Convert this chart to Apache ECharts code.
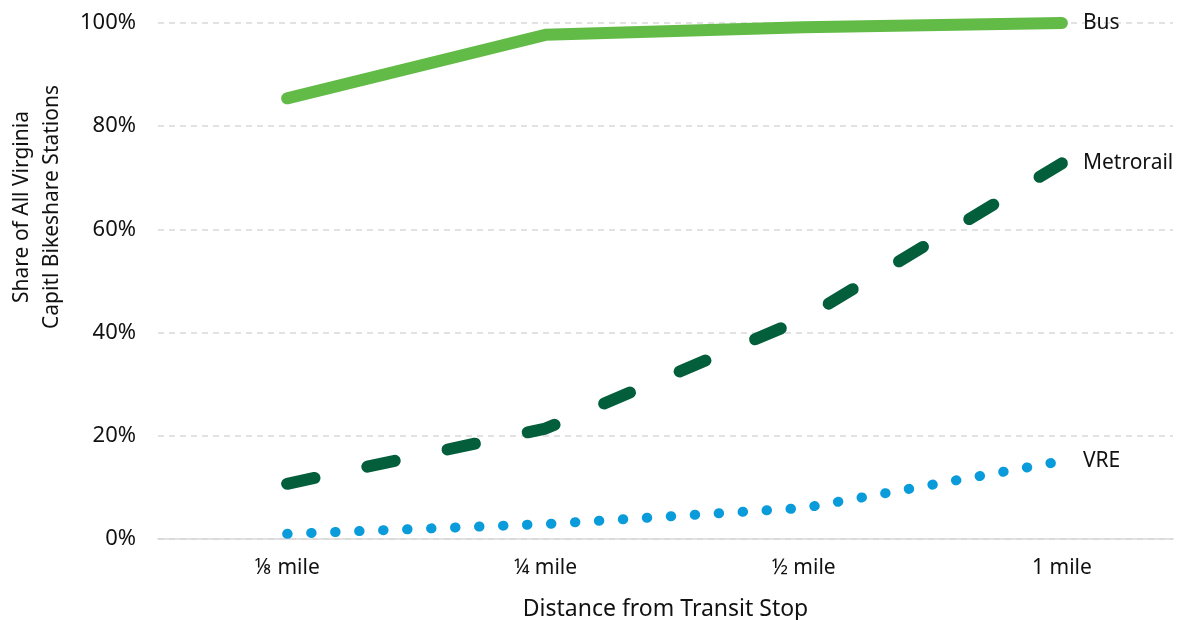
<!DOCTYPE html>
<html>
<head>
<meta charset="utf-8">
<script src="https://cdn.jsdelivr.net/npm/echarts@6/dist/echarts.min.js"></script>
<style>
  html, body { margin: 0; padding: 0; background: #fff; }
  #chart-container { width: 1179px; height: 620px; }
</style>
</head>
<body>
<div id="chart-container"></div>
<script>
const distances = ['⅛ mile', '¼ mile', '½ mile', '1 mile'];
const busShare = [85.4, 97.7, 99.2, 100];
const metrorailShare = [10.7, 21.4, 42.7, 72.8];
const vreShare = [1.0, 2.9, 6.0, 15.1];
const yTicks = [0, 20, 40, 60, 80, 100];

const toPoints = (values) => values.map((v, i) => [i, v]);

function createChart(id) {
    let dom = document.getElementById(id);
    let myChart = echarts.init(dom, null, { renderer: 'canvas' });

    const font = '"Noto Sans", sans-serif';
    const endLabel = (name) => ({
        show: true,
        formatter: name,
        distance: 21,
        color: '#111',
        fontSize: 21,
        fontFamily: font
    });

    let option = {
        animation: false,
        grid: { left: 158, right: 6, top: 23, bottom: 81, outerBoundsMode: 'none' },
        xAxis: {
            type: 'value',
            min: -0.5,
            max: 3.43,
            name: 'Distance from Transit Stop',
            nameLocation: 'middle',
            nameGap: 59,
            nameTextStyle: { fontSize: 23, color: '#111', fontFamily: font },
            axisLine: { show: true, lineStyle: { color: '#d9d9d9', width: 1.5 } },
            axisTick: { show: false },
            splitLine: { show: false },
            axisLabel: {
                customValues: [0, 1, 2, 3],
                formatter: (v) => distances[Math.round(v)],
                fontSize: 21,
                color: '#111',
                margin: 19,
                fontFamily: font
            }
        },
        yAxis: {
            type: 'value',
            min: yTicks[0],
            max: yTicks[yTicks.length - 1],
            interval: 20,
            axisLine: { show: false },
            axisTick: { show: false },
            splitLine: { lineStyle: { color: '#d9d9d9', type: [6, 5], width: 1.5 } },
            axisLabel: {
                formatter: '{value}%',
                fontSize: 22,
                color: '#111',
                margin: 22,
                fontFamily: font
            }
        },
        graphic: [
            {
                type: 'text',
                x: 37,
                y: 207,
                rotation: Math.PI / 2,
                style: {
                    text: 'Share of All Virginia\nCapitl Bikeshare Stations',
                    fontSize: 21,
                    lineHeight: 30,
                    fill: '#111',
                    fontFamily: font,
                    align: 'center',
                    verticalAlign: 'middle'
                }
            }
        ],
        series: [
            {
                name: 'Bus',
                type: 'line',
                data: toPoints(busShare),
                showSymbol: false,
                color: '#62BB46',
                lineStyle: { width: 12, color: '#62BB46', cap: 'round', join: 'round' },
                endLabel: endLabel('Bus')
            },
            {
                name: 'Metrorail',
                type: 'line',
                data: toPoints(metrorailShare),
                showSymbol: false,
                color: '#035E3B',
                lineStyle: { width: 12, color: '#035E3B', type: [28, 54], cap: 'round', join: 'round' },
                endLabel: endLabel('Metrorail')
            },
            {
                name: 'VRE',
                type: 'line',
                data: toPoints(vreShare),
                showSymbol: false,
                color: '#0A9BDA',
                lineStyle: { width: 10, color: '#0A9BDA', type: [0.5, 23.5], cap: 'round', join: 'round' },
                endLabel: endLabel('VRE')
            }
        ]
    };

    myChart.setOption(option);
    window.addEventListener('resize', myChart.resize);
}

createChart('chart-container');
</script>
</body>
</html>
